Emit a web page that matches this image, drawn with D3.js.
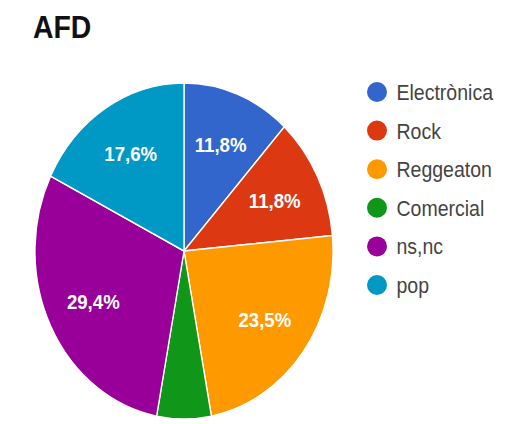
<!DOCTYPE html>
<html>
<head>
<meta charset="utf-8">
<script src="https://cdnjs.cloudflare.com/ajax/libs/d3/7.8.5/d3.min.js"></script>
<style>
  html, body { margin: 0; padding: 0; background: #fff; }
  text { font-family: "Liberation Sans", Arial, sans-serif; }
</style>
</head>
<body>
<div class="chart"></div>
<script>
var categories = ["Electrònica", "Rock", "Reggeaton", "Comercial", "ns,nc", "pop"];
var counts = [2, 2, 4, 1, 5, 3];
var colors = ["#3366cc", "#dc3912", "#ff9900", "#109618", "#990099", "#0099c6"];
var chartTitle = "AFD";

var width = 531,
    height = 424,
    squeeze = 0.887,   // picture is narrower than tall
    cx = 184 / squeeze,
    cy = 251,
    radius = 168;

var total = d3.sum(counts);
var fmt = function (v) {
    return d3.format(".1f")(v / total * 100).replace(".", ",") + "%";
};

var data = categories.map(function (c, i) {
    return { name: c, value: counts[i], color: colors[i] };
});

var svg = d3.select(".chart").append("svg")
    .attr("width", width)
    .attr("height", height);

var root = svg.append("g").attr("transform", "scale(" + squeeze + ",1)");

root.append("text")
    .attr("x", 33 / squeeze)
    .attr("y", 38)
    .attr("font-size", 32)
    .attr("font-weight", "bold")
    .attr("fill", "#111")
    .text(chartTitle);

var pie = d3.pie().sort(null).value(function (d) { return d.value; });
var arc = d3.arc().innerRadius(0).outerRadius(radius);
var labelArc = d3.arc().innerRadius(radius * 0.68).outerRadius(radius * 0.68);

var slices = root.append("g").attr("transform", "translate(" + cx + "," + cy + ")");

slices.selectAll("path")
    .data(pie(data))
    .enter()
    .append("path")
    .attr("d", arc)
    .attr("fill", function (d) { return d.data.color; })
    .attr("stroke", "#fff")
    .attr("stroke-width", 1.5);

slices.selectAll("text")
    .data(pie(data).filter(function (d) { return d.endAngle - d.startAngle > 0.5; }))
    .enter()
    .append("text")
    .attr("transform", function (d) { return "translate(" + labelArc.centroid(d) + ")"; })
    .attr("text-anchor", "middle")
    .attr("dy", "0.36em")
    .attr("font-size", 21)
    .attr("font-weight", "bold")
    .attr("fill", "#fff")
    .text(function (d) { return fmt(d.data.value); });

var legendY = d3.scalePoint().domain(categories).range([92, 285]);

var legend = root.append("g")
    .selectAll("g")
    .data(data)
    .enter()
    .append("g")
    .attr("transform", function (d) { return "translate(" + (377 / squeeze) + "," + legendY(d.name) + ")"; });

// dots look round in the picture, so undo the squeeze
legend.append("ellipse")
    .attr("rx", 10 / squeeze)
    .attr("ry", 10)
    .attr("fill", function (d) { return d.color; });

legend.append("text")
    .attr("x", 22)
    .attr("dy", "0.36em")
    .attr("font-size", 22)
    .attr("fill", "#444")
    .text(function (d) { return d.name; });
</script>
</body>
</html>
